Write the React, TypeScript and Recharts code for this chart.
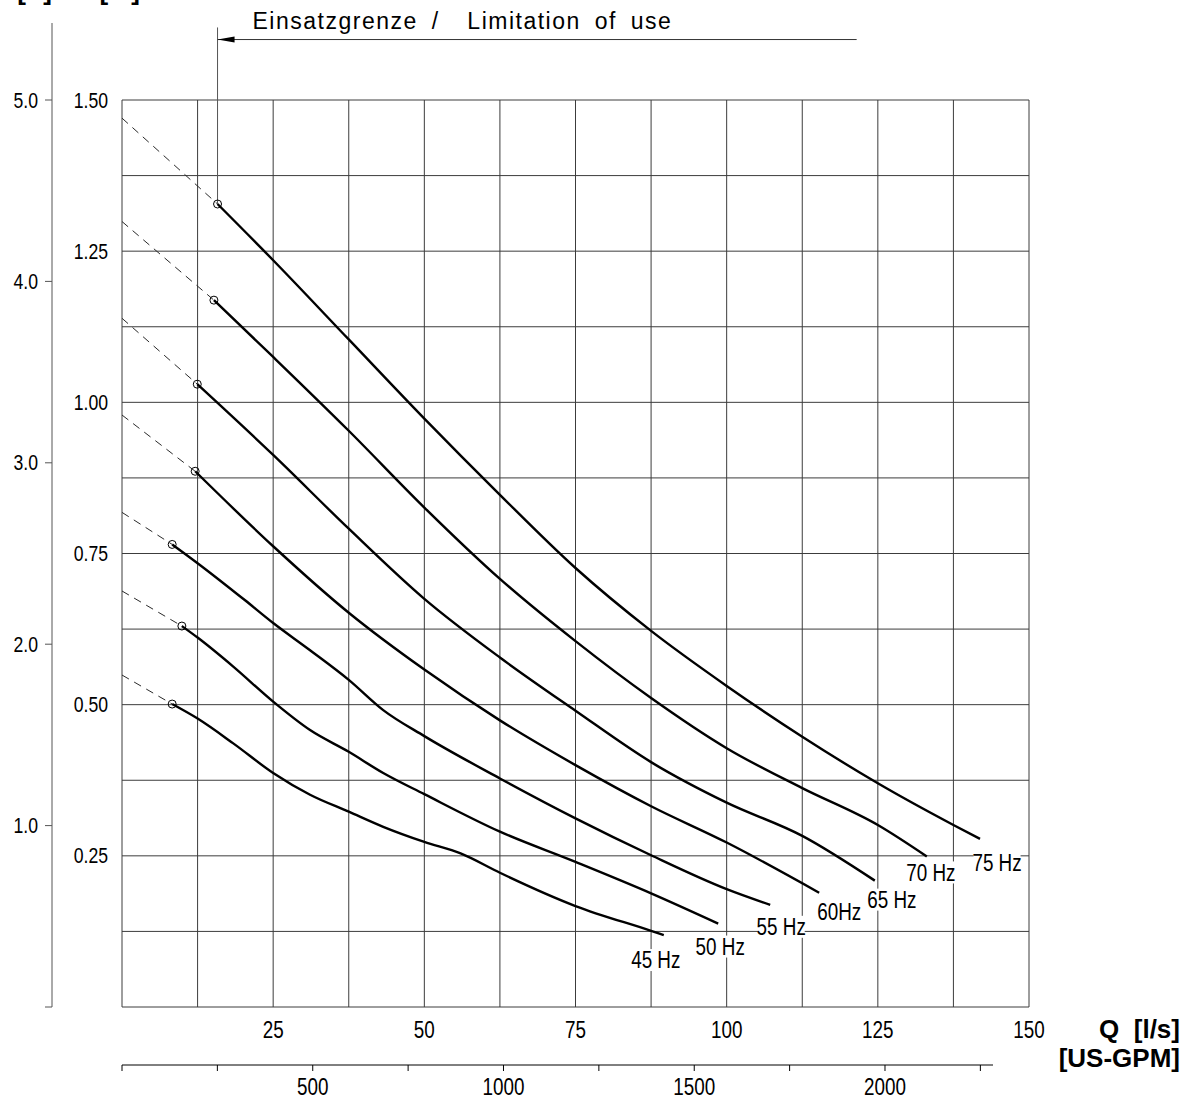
import React from 'react';
import {
  LineChart,
  Line,
  XAxis,
  YAxis,
  CartesianGrid,
  ReferenceLine,
  ReferenceDot,
} from 'recharts';

// pump curves, head H [m] over flow Q [l/s], one per drive frequency
const FREQUENCIES = [45, 50, 55, 60, 65, 70, 75];
const CURVE_LABELS = ['45 Hz', '50 Hz', '55 Hz', '60Hz', '65 Hz', '70 Hz', '75 Hz'];

// head at Q = 0 (dashed extrapolation up to the limitation of use)
const H_AT_ZERO = [0.549, 0.688, 0.818, 0.979, 1.139, 1.299, 1.47];

const Q_45 = [8.3, 12.5, 18.4, 25, 31.1, 37.5, 43.2, 50, 56, 62.5, 75, 87.5, 89.6];
const H_45 = [0.501, 0.477, 0.436, 0.387, 0.351, 0.323, 0.298, 0.273, 0.254, 0.222, 0.167, 0.126, 0.119];

const Q_50 = [9.9, 12.5, 18.4, 25, 31.1, 37.5, 43.2, 50, 62.5, 75, 87.5, 98.6];
const H_50 = [0.63, 0.611, 0.563, 0.505, 0.458, 0.422, 0.387, 0.352, 0.29, 0.24, 0.188, 0.138];

const Q_55 = [8.3, 12.5, 20.3, 25, 31.1, 37.5, 43.2, 50, 62.5, 75, 87.5, 100, 107.2];
const H_55 = [0.765, 0.734, 0.673, 0.635, 0.59, 0.541, 0.491, 0.448, 0.378, 0.312, 0.251, 0.195, 0.169];

const Q_60 = [12.1, 25, 37.5, 50, 62.5, 75, 87.5, 100, 115.3];
const H_60 = [0.886, 0.762, 0.652, 0.558, 0.474, 0.4, 0.332, 0.272, 0.189];

const Q_65 = [12.45, 25, 37.5, 50, 62.5, 75, 87.5, 100, 112.5, 124.5];
const H_65 = [1.03, 0.913, 0.791, 0.675, 0.578, 0.49, 0.405, 0.338, 0.283, 0.209];

const Q_70 = [15.2, 25, 37.5, 50, 62.5, 75, 87.5, 100, 112.5, 125, 133.1];
const H_70 = [1.169, 1.075, 0.953, 0.826, 0.708, 0.605, 0.511, 0.428, 0.362, 0.301, 0.249];

const Q_75 = [15.8, 25, 37.5, 50, 62.5, 75, 87.5, 100, 112.5, 125, 137.5, 141.9];
const H_75 = [1.328, 1.235, 1.104, 0.973, 0.847, 0.726, 0.622, 0.531, 0.447, 0.37, 0.301, 0.278];

const Q_VALUES = [Q_45, Q_50, Q_55, Q_60, Q_65, Q_70, Q_75];
const H_VALUES = [H_45, H_50, H_55, H_60, H_65, H_70, H_75];

// axes
const Q_TICKS = [0, 12.5, 25, 37.5, 50, 62.5, 75, 87.5, 100, 112.5, 125, 137.5, 150];
const Q_LABELS = [25, 50, 75, 100, 125, 150];
const H_TICKS = [0, 0.125, 0.25, 0.375, 0.5, 0.625, 0.75, 0.875, 1, 1.125, 1.25, 1.375, 1.5];
const H_LABELS = [0.25, 0.5, 0.75, 1, 1.25, 1.5];
const FT_TICKS = [0, 1, 2, 3, 4, 5];
const GPM_TICKS = [0, 250, 500, 750, 1000, 1250, 1500, 1750, 2000, 2250];
const GPM_LABELS = [500, 1000, 1500, 2000];
const LPS_TO_GPM = 15.85;
const M_TO_FT = 1 / 0.3048;

// annotation "Einsatzgrenze"
const LIMIT_TOP_H = 1.62;
const LIMIT_ARROW_H = 1.6;
const LIMIT_ARROW_END_Q = 121.5;

// label offsets (px) from the end of each curve
const LABEL_OFFSETS = [
  [-8, 25],
  [2, 23],
  [11, 22],
  [20, 19],
  [17, 19],
  [4, 16],
  [17, 24],
];

const SANS = "'Liberation Sans', Arial, sans-serif";
const NARROW_SCALE = 0.82;

const series = FREQUENCIES.map((f, i) => {
  const qs = Q_VALUES[i];
  const hs = H_VALUES[i];
  return {
    f,
    label: CURVE_LABELS[i],
    offset: LABEL_OFFSETS[i],
    solid: qs.map((q, j) => ({ q, h: hs[j] })),
    dashed: [
      { q: 0, h: H_AT_ZERO[i] },
      { q: qs[0], h: hs[0] },
    ],
    end: { q: qs[qs.length - 1], h: hs[hs.length - 1] },
  };
});

// the top curve, re-expressed in the secondary units, only feeds the outer axes
const gpmRef = series[6].solid.map((p) => ({ gpm: p.q * LPS_TO_GPM, h: p.h }));
const ftRef = series[6].solid.map((p) => ({ q: p.q, ft: p.h * M_TO_FT }));

// condensed text (no narrow font installed, so squeeze a regular one)
function NarrowText({ x, y, anchor, dy, size, children }: any) {
  return (
    <text
      transform={`translate(${x},${y}) scale(${NARROW_SCALE},1)`}
      textAnchor={anchor}
      dy={dy}
      fontFamily={SANS}
      fontSize={size}
      fill="#000"
    >
      {children}
    </text>
  );
}

const makeTick = (format: (v: number) => string, anchor: string, dy: string, size: number) =>
  (props: any) => {
    const text = format(props.payload.value);
    if (!text) return <g />;
    return (
      <NarrowText x={props.x} y={props.y} anchor={anchor} dy={dy} size={size}>
        {text}
      </NarrowText>
    );
  };

const lpsTick = makeTick((v) => (Q_LABELS.includes(v) ? String(v) : ''), 'middle', '0.71em', 23);
const gpmTick = makeTick((v) => (GPM_LABELS.includes(v) ? String(v) : ''), 'middle', '0.71em', 23);
const mTick = makeTick((v) => (H_LABELS.includes(v) ? v.toFixed(2) : ''), 'end', '0.355em', 21.5);
const ftTick = makeTick((v) => (v === 0 ? '' : v.toFixed(1)), 'end', '0.355em', 21.5);

const startDot = (props: any) => {
  const { cx, cy, index, key } = props;
  if (index !== 0) return <g key={key ?? index} />;
  return (
    <circle key={key ?? index} cx={cx} cy={cy} r={4} fill="none" stroke="#000" strokeWidth={1} />
  );
};

const curveLabel = (text: string, dx: number, dy: number) => (props: any) => {
  const { cx, cy } = props;
  const w = text.length * 9 + 2;
  return (
    <g>
      <rect x={cx + dx - w / 2} y={cy + dy - 11} width={w} height={22} fill="#fff" />
      <NarrowText x={cx + dx} y={cy + dy} anchor="middle" dy="0.36em" size={23}>
        {text}
      </NarrowText>
    </g>
  );
};

const boldLabel = (text: string, x: number, y: number, anchor = 'end') => (
  <text
    x={x}
    y={y}
    textAnchor={anchor}
    fontFamily={SANS}
    fontWeight="bold"
    fontSize={26}
    fill="#000"
    style={{ whiteSpace: 'pre' }}
  >
    {text}
  </text>
);

export default function App() {
  const limitQ = Q_75[0];
  const limitH = H_75[0];

  return (
    <div style={{ position: 'absolute', left: 0, top: 0, background: '#fff' }}>
      <LineChart
        width={1192}
        height={1099}
        margin={{ top: 100, right: 163, bottom: 0, left: 0 }}
      >
        <CartesianGrid xAxisId="lps" yAxisId="m" stroke="#3c3c3c" strokeWidth={1} />

        {/* outer axes first, inner axes last: the inner ones sit next to the plot */}
        <XAxis
          xAxisId="z_gpm"
          dataKey="gpm"
          type="number"
          domain={[0, 150 * LPS_TO_GPM]}
          ticks={GPM_TICKS}
          interval={0}
          height={34}
          axisLine={{ stroke: '#000', strokeDasharray: '871 400' }}
          tickLine={{ stroke: '#000' }}
          tickSize={6}
          tickMargin={8}
          tick={gpmTick}
          label={(props: any) => {
            const vb = props.viewBox;
            return boldLabel('[US-GPM]', vb.x + vb.width + 151, vb.y + 2);
          }}
        />
        <XAxis
          xAxisId="lps"
          dataKey="q"
          type="number"
          domain={[0, 150]}
          ticks={Q_TICKS}
          interval={0}
          height={58}
          axisLine={false}
          tickLine={false}
          tickSize={6}
          tickMargin={9}
          tick={lpsTick}
          label={(props: any) => {
            const vb = props.viewBox;
            return boldLabel('Q  [l/s]', vb.x + vb.width + 151, vb.y + 31);
          }}
        />
        <YAxis
          yAxisId="z_ft"
          dataKey="ft"
          type="number"
          domain={[0, 5]}
          ticks={FT_TICKS}
          interval={0}
          width={52}
          axisLine={{ stroke: '#555' }}
          tickLine={{ stroke: '#555' }}
          tickSize={7}
          tickMargin={7}
          tick={ftTick}
          label={(props: any) => {
            const vb = props.viewBox;
            const ax = vb.x + vb.width;
            return (
              <g>
                <line x1={ax} x2={ax} y1={vb.y - 77} y2={vb.y} stroke="#555" />
                {boldLabel('[ft]', ax, vb.y - 100)}
              </g>
            );
          }}
        />
        <YAxis
          yAxisId="m"
          type="number"
          domain={[0, 1.5]}
          ticks={H_TICKS}
          interval={0}
          width={70}
          axisLine={false}
          tickLine={false}
          tickSize={6}
          tickMargin={8}
          tick={mTick}
          label={(props: any) => {
            const vb = props.viewBox;
            return boldLabel('[m]', vb.x + vb.width + 18, vb.y - 100);
          }}
        />

        <Line
          xAxisId="z_gpm"
          yAxisId="m"
          data={gpmRef}
          dataKey="h"
          stroke="none"
          dot={false}
          activeDot={false}
          isAnimationActive={false}
        />
        <Line
          xAxisId="lps"
          yAxisId="z_ft"
          data={ftRef}
          dataKey="ft"
          stroke="none"
          dot={false}
          activeDot={false}
          isAnimationActive={false}
        />

        {series.map((s) => (
          <Line
            key={`dash-${s.f}`}
            xAxisId="lps"
            yAxisId="m"
            data={s.dashed}
            dataKey="h"
            type="linear"
            stroke="#2a2a2a"
            strokeWidth={1}
            strokeDasharray="8 6"
            dot={false}
            activeDot={false}
            isAnimationActive={false}
          />
        ))}
        {series.map((s) => (
          <Line
            key={`curve-${s.f}`}
            xAxisId="lps"
            yAxisId="m"
            data={s.solid}
            dataKey="h"
            type="monotone"
            stroke="#000"
            strokeWidth={2.4}
            dot={startDot}
            activeDot={false}
            isAnimationActive={false}
          />
        ))}

        {series.map((s) => (
          <ReferenceDot
            key={`label-${s.f}`}
            xAxisId="lps"
            yAxisId="m"
            x={s.end.q}
            y={s.end.h}
            ifOverflow="visible"
            shape={curveLabel(s.label, s.offset[0], s.offset[1])}
          />
        ))}

        <ReferenceLine
          xAxisId="lps"
          yAxisId="m"
          segment={[
            { x: limitQ, y: limitH },
            { x: limitQ, y: LIMIT_TOP_H },
          ]}
          stroke="#555"
          strokeWidth={1}
          ifOverflow="visible"
        />
        <ReferenceLine
          xAxisId="lps"
          yAxisId="m"
          segment={[
            { x: limitQ, y: LIMIT_ARROW_H },
            { x: LIMIT_ARROW_END_Q, y: LIMIT_ARROW_H },
          ]}
          stroke="#333"
          strokeWidth={1}
          ifOverflow="visible"
        />
        <ReferenceDot
          xAxisId="lps"
          yAxisId="m"
          x={limitQ}
          y={LIMIT_ARROW_H}
          ifOverflow="visible"
          shape={(p: any) => (
            <g>
              <polygon
                points={`${p.cx},${p.cy} ${p.cx + 17},${p.cy - 3} ${p.cx + 17},${p.cy + 3}`}
                fill="#000"
              />
              <text
                x={p.cx + 35}
                y={p.cy - 11}
                fontFamily={SANS}
                fontSize={23}
                letterSpacing={1.5}
                wordSpacing={6}
                fill="#000"
                style={{ whiteSpace: 'pre' }}
              >
                {'Einsatzgrenze /  Limitation of use'}
              </text>
            </g>
          )}
        />
      </LineChart>
    </div>
  );
}
